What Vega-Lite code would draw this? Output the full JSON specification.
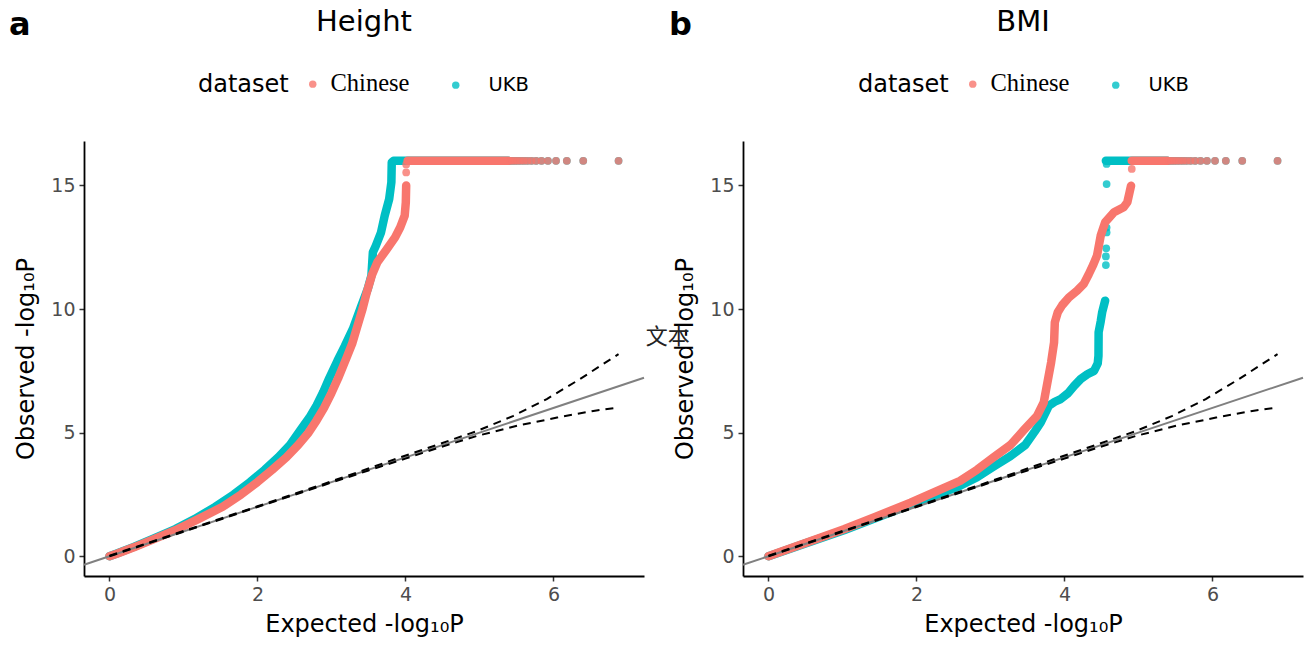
{
  "$schema": "https://vega.github.io/schema/vega-lite/v6.json",
  "background": "white",
  "padding": {"left": 9, "top": 8, "right": 5, "bottom": 5},
  "spacing": 99,
  "bounds": "flush",
  "config": {
    "view": {"stroke": null},
    "font": "DejaVu Sans",
    "axis": {
      "grid": false, "domainColor": "black", "domainWidth": 1.8,
      "tickColor": "#333333", "tickWidth": 1.5, "tickSize": 5,
      "labelColor": "#4D4D4D", "labelFontSize": 19, "labelFont": "DejaVu Sans", "labelPadding": 4,
      "titleFont": "DejaVu Sans", "titleFontSize": 24, "titleFontWeight": "normal", "titleColor": "black"
    },
    "axisX": {"titlePadding": 8},
    "axisY": {"titlePadding": 12},
    "legend": {
      "orient": "none", "direction": "horizontal", "titleOrient": "left",
      "titleFontSize": 24, "titleFontWeight": "normal", "titleColor": "black", "titleFont": "DejaVu Sans", "titlePadding": 14,
      "labelFontSize": 19.5, "labelColor": "black", "symbolType": "circle", "symbolSize": 55, "symbolOpacity": 0.8,
      "symbolStrokeWidth": 0, "labelOffset": 8, "columnPadding": 36
    }
  },
  "datasets": {
    "h_curve": [
      {"dataset": "UKB", "piece": "c", "x": 0, "y": 0},
      {"dataset": "UKB", "piece": "c", "x": 0.1, "y": 0.11},
      {"dataset": "UKB", "piece": "c", "x": 0.33, "y": 0.38},
      {"dataset": "UKB", "piece": "c", "x": 0.6, "y": 0.72},
      {"dataset": "UKB", "piece": "c", "x": 0.89, "y": 1.1},
      {"dataset": "UKB", "piece": "c", "x": 1.15, "y": 1.5},
      {"dataset": "UKB", "piece": "c", "x": 1.43, "y": 2.0},
      {"dataset": "UKB", "piece": "c", "x": 1.68, "y": 2.5},
      {"dataset": "UKB", "piece": "c", "x": 1.9, "y": 3.0},
      {"dataset": "UKB", "piece": "c", "x": 2.1, "y": 3.5},
      {"dataset": "UKB", "piece": "c", "x": 2.28, "y": 4.0},
      {"dataset": "UKB", "piece": "c", "x": 2.44, "y": 4.5},
      {"dataset": "UKB", "piece": "c", "x": 2.58, "y": 5.1},
      {"dataset": "UKB", "piece": "c", "x": 2.7, "y": 5.6},
      {"dataset": "UKB", "piece": "c", "x": 2.8, "y": 6.1},
      {"dataset": "UKB", "piece": "c", "x": 2.89, "y": 6.65},
      {"dataset": "UKB", "piece": "c", "x": 2.97, "y": 7.2},
      {"dataset": "UKB", "piece": "c", "x": 3.08, "y": 7.9},
      {"dataset": "UKB", "piece": "c", "x": 3.18, "y": 8.5},
      {"dataset": "UKB", "piece": "c", "x": 3.29, "y": 9.2},
      {"dataset": "UKB", "piece": "c", "x": 3.4, "y": 10.1},
      {"dataset": "UKB", "piece": "c", "x": 3.49, "y": 10.81},
      {"dataset": "UKB", "piece": "c", "x": 3.54, "y": 11.35},
      {"dataset": "UKB", "piece": "c", "x": 3.56, "y": 12.3},
      {"dataset": "UKB", "piece": "c", "x": 3.6, "y": 12.56},
      {"dataset": "UKB", "piece": "c", "x": 3.67, "y": 13.1},
      {"dataset": "UKB", "piece": "c", "x": 3.72, "y": 13.78},
      {"dataset": "UKB", "piece": "c", "x": 3.78, "y": 14.45},
      {"dataset": "UKB", "piece": "c", "x": 3.81, "y": 15.13},
      {"dataset": "UKB", "piece": "c", "x": 3.815, "y": 15.94},
      {"dataset": "UKB", "piece": "c", "x": 3.84, "y": 16},
      {"dataset": "UKB", "piece": "c", "x": 5.39, "y": 16},
      {"dataset": "Chinese", "piece": "c", "x": 0, "y": 0},
      {"dataset": "Chinese", "piece": "c", "x": 0.1, "y": 0.1},
      {"dataset": "Chinese", "piece": "c", "x": 0.33, "y": 0.36},
      {"dataset": "Chinese", "piece": "c", "x": 0.6, "y": 0.69},
      {"dataset": "Chinese", "piece": "c", "x": 0.89, "y": 1.05},
      {"dataset": "Chinese", "piece": "c", "x": 1.2, "y": 1.5},
      {"dataset": "Chinese", "piece": "c", "x": 1.53, "y": 2.0},
      {"dataset": "Chinese", "piece": "c", "x": 1.78, "y": 2.5},
      {"dataset": "Chinese", "piece": "c", "x": 2.0, "y": 3.0},
      {"dataset": "Chinese", "piece": "c", "x": 2.2, "y": 3.5},
      {"dataset": "Chinese", "piece": "c", "x": 2.39, "y": 4.0},
      {"dataset": "Chinese", "piece": "c", "x": 2.55, "y": 4.5},
      {"dataset": "Chinese", "piece": "c", "x": 2.69, "y": 5.0},
      {"dataset": "Chinese", "piece": "c", "x": 2.8, "y": 5.5},
      {"dataset": "Chinese", "piece": "c", "x": 2.9, "y": 6.0},
      {"dataset": "Chinese", "piece": "c", "x": 3.0, "y": 6.6},
      {"dataset": "Chinese", "piece": "c", "x": 3.09, "y": 7.2},
      {"dataset": "Chinese", "piece": "c", "x": 3.2, "y": 8.0},
      {"dataset": "Chinese", "piece": "c", "x": 3.28, "y": 8.6},
      {"dataset": "Chinese", "piece": "c", "x": 3.35, "y": 9.3},
      {"dataset": "Chinese", "piece": "c", "x": 3.42, "y": 10.0},
      {"dataset": "Chinese", "piece": "c", "x": 3.48, "y": 10.7},
      {"dataset": "Chinese", "piece": "c", "x": 3.55, "y": 11.4},
      {"dataset": "Chinese", "piece": "c", "x": 3.62, "y": 11.89},
      {"dataset": "Chinese", "piece": "c", "x": 3.75, "y": 12.43},
      {"dataset": "Chinese", "piece": "c", "x": 3.86, "y": 12.9},
      {"dataset": "Chinese", "piece": "c", "x": 3.93, "y": 13.31},
      {"dataset": "Chinese", "piece": "c", "x": 3.99, "y": 13.78},
      {"dataset": "Chinese", "piece": "c", "x": 4.005, "y": 14.32},
      {"dataset": "Chinese", "piece": "c", "x": 4.01, "y": 15.0},
      {"dataset": "Chinese", "piece": "t", "x": 4.03, "y": 16},
      {"dataset": "Chinese", "piece": "t", "x": 5.39, "y": 16}
    ],
    "h_tail": [
      {"dataset": "UKB", "x": 5.417, "y": 16}, {"dataset": "UKB", "x": 5.448, "y": 16},
      {"dataset": "UKB", "x": 5.482, "y": 16}, {"dataset": "UKB", "x": 5.518, "y": 16},
      {"dataset": "UKB", "x": 5.558, "y": 16}, {"dataset": "UKB", "x": 5.602, "y": 16},
      {"dataset": "UKB", "x": 5.65, "y": 16}, {"dataset": "UKB", "x": 5.704, "y": 16},
      {"dataset": "UKB", "x": 5.766, "y": 16}, {"dataset": "UKB", "x": 5.839, "y": 16},
      {"dataset": "UKB", "x": 5.926, "y": 16}, {"dataset": "UKB", "x": 6.035, "y": 16},
      {"dataset": "UKB", "x": 6.181, "y": 16}, {"dataset": "UKB", "x": 6.403, "y": 16},
      {"dataset": "UKB", "x": 6.88, "y": 16},
      {"dataset": "Chinese", "x": 4.01, "y": 15.53}, {"dataset": "Chinese", "x": 4.01, "y": 15.85},
      {"dataset": "Chinese", "x": 5.417, "y": 16}, {"dataset": "Chinese", "x": 5.448, "y": 16},
      {"dataset": "Chinese", "x": 5.482, "y": 16}, {"dataset": "Chinese", "x": 5.518, "y": 16},
      {"dataset": "Chinese", "x": 5.558, "y": 16}, {"dataset": "Chinese", "x": 5.602, "y": 16},
      {"dataset": "Chinese", "x": 5.65, "y": 16}, {"dataset": "Chinese", "x": 5.704, "y": 16},
      {"dataset": "Chinese", "x": 5.766, "y": 16}, {"dataset": "Chinese", "x": 5.839, "y": 16},
      {"dataset": "Chinese", "x": 5.926, "y": 16}, {"dataset": "Chinese", "x": 6.035, "y": 16},
      {"dataset": "Chinese", "x": 6.181, "y": 16}, {"dataset": "Chinese", "x": 6.403, "y": 16},
      {"dataset": "Chinese", "x": 6.88, "y": 16}
    ],
    "b_curve": [
      {"dataset": "UKB", "piece": "c", "x": 0, "y": 0},
      {"dataset": "UKB", "piece": "c", "x": 0.1, "y": 0.1},
      {"dataset": "UKB", "piece": "c", "x": 0.5, "y": 0.52},
      {"dataset": "UKB", "piece": "c", "x": 1.02, "y": 1.05},
      {"dataset": "UKB", "piece": "c", "x": 1.45, "y": 1.55},
      {"dataset": "UKB", "piece": "c", "x": 1.92, "y": 2.08},
      {"dataset": "UKB", "piece": "c", "x": 2.25, "y": 2.45},
      {"dataset": "UKB", "piece": "c", "x": 2.59, "y": 2.85},
      {"dataset": "UKB", "piece": "c", "x": 2.82, "y": 3.2},
      {"dataset": "UKB", "piece": "c", "x": 3.04, "y": 3.62},
      {"dataset": "UKB", "piece": "c", "x": 3.27, "y": 4.05},
      {"dataset": "UKB", "piece": "c", "x": 3.47, "y": 4.5},
      {"dataset": "UKB", "piece": "c", "x": 3.6, "y": 5.05},
      {"dataset": "UKB", "piece": "c", "x": 3.68, "y": 5.41},
      {"dataset": "UKB", "piece": "c", "x": 3.79, "y": 6.09},
      {"dataset": "UKB", "piece": "c", "x": 3.87, "y": 6.25},
      {"dataset": "UKB", "piece": "c", "x": 3.95, "y": 6.36},
      {"dataset": "UKB", "piece": "c", "x": 4.05, "y": 6.6},
      {"dataset": "UKB", "piece": "c", "x": 4.13, "y": 6.89},
      {"dataset": "UKB", "piece": "c", "x": 4.22, "y": 7.17},
      {"dataset": "UKB", "piece": "c", "x": 4.31, "y": 7.36},
      {"dataset": "UKB", "piece": "c", "x": 4.4, "y": 7.5},
      {"dataset": "UKB", "piece": "c", "x": 4.45, "y": 7.8},
      {"dataset": "UKB", "piece": "c", "x": 4.46, "y": 8.11},
      {"dataset": "UKB", "piece": "c", "x": 4.462, "y": 9.06},
      {"dataset": "UKB", "piece": "c", "x": 4.49, "y": 9.5},
      {"dataset": "UKB", "piece": "c", "x": 4.51, "y": 9.87},
      {"dataset": "UKB", "piece": "c", "x": 4.55, "y": 10.34},
      {"dataset": "UKB", "piece": "t", "x": 4.56, "y": 16},
      {"dataset": "UKB", "piece": "t", "x": 5.39, "y": 16},
      {"dataset": "Chinese", "piece": "c", "x": 0, "y": 0},
      {"dataset": "Chinese", "piece": "c", "x": 0.1, "y": 0.11},
      {"dataset": "Chinese", "piece": "c", "x": 0.5, "y": 0.54},
      {"dataset": "Chinese", "piece": "c", "x": 1.02, "y": 1.09},
      {"dataset": "Chinese", "piece": "c", "x": 1.45, "y": 1.6},
      {"dataset": "Chinese", "piece": "c", "x": 1.92, "y": 2.17},
      {"dataset": "Chinese", "piece": "c", "x": 2.25, "y": 2.6},
      {"dataset": "Chinese", "piece": "c", "x": 2.59, "y": 3.05},
      {"dataset": "Chinese", "piece": "c", "x": 2.82, "y": 3.5},
      {"dataset": "Chinese", "piece": "c", "x": 3.04, "y": 4.0},
      {"dataset": "Chinese", "piece": "c", "x": 3.27, "y": 4.5},
      {"dataset": "Chinese", "piece": "c", "x": 3.45, "y": 5.1},
      {"dataset": "Chinese", "piece": "c", "x": 3.63, "y": 5.68},
      {"dataset": "Chinese", "piece": "c", "x": 3.72, "y": 6.22},
      {"dataset": "Chinese", "piece": "c", "x": 3.77, "y": 7.03},
      {"dataset": "Chinese", "piece": "c", "x": 3.82, "y": 7.84},
      {"dataset": "Chinese", "piece": "c", "x": 3.86, "y": 8.65},
      {"dataset": "Chinese", "piece": "c", "x": 3.87, "y": 9.46},
      {"dataset": "Chinese", "piece": "c", "x": 3.91, "y": 9.87},
      {"dataset": "Chinese", "piece": "c", "x": 3.97, "y": 10.16},
      {"dataset": "Chinese", "piece": "c", "x": 4.06, "y": 10.47},
      {"dataset": "Chinese", "piece": "c", "x": 4.17, "y": 10.74},
      {"dataset": "Chinese", "piece": "c", "x": 4.26, "y": 11.01},
      {"dataset": "Chinese", "piece": "c", "x": 4.33, "y": 11.42},
      {"dataset": "Chinese", "piece": "c", "x": 4.39, "y": 11.8},
      {"dataset": "Chinese", "piece": "c", "x": 4.44, "y": 12.16},
      {"dataset": "Chinese", "piece": "c", "x": 4.49, "y": 12.97},
      {"dataset": "Chinese", "piece": "c", "x": 4.55, "y": 13.51},
      {"dataset": "Chinese", "piece": "c", "x": 4.67, "y": 13.92},
      {"dataset": "Chinese", "piece": "c", "x": 4.8, "y": 14.12},
      {"dataset": "Chinese", "piece": "c", "x": 4.85, "y": 14.32},
      {"dataset": "Chinese", "piece": "c", "x": 4.88, "y": 14.72},
      {"dataset": "Chinese", "piece": "c", "x": 4.9, "y": 14.99},
      {"dataset": "Chinese", "piece": "t", "x": 4.91, "y": 16},
      {"dataset": "Chinese", "piece": "t", "x": 5.39, "y": 16}
    ],
    "b_tail": [
      {"dataset": "UKB", "x": 4.56, "y": 11.78}, {"dataset": "UKB", "x": 4.56, "y": 12.13},
      {"dataset": "UKB", "x": 4.565, "y": 12.46}, {"dataset": "UKB", "x": 4.57, "y": 13.1},
      {"dataset": "UKB", "x": 4.57, "y": 13.3}, {"dataset": "UKB", "x": 4.57, "y": 15.06},
      {"dataset": "UKB", "x": 4.57, "y": 15.87},
      {"dataset": "UKB", "x": 5.417, "y": 16}, {"dataset": "UKB", "x": 5.448, "y": 16},
      {"dataset": "UKB", "x": 5.482, "y": 16}, {"dataset": "UKB", "x": 5.518, "y": 16},
      {"dataset": "UKB", "x": 5.558, "y": 16}, {"dataset": "UKB", "x": 5.602, "y": 16},
      {"dataset": "UKB", "x": 5.65, "y": 16}, {"dataset": "UKB", "x": 5.704, "y": 16},
      {"dataset": "UKB", "x": 5.766, "y": 16}, {"dataset": "UKB", "x": 5.839, "y": 16},
      {"dataset": "UKB", "x": 5.926, "y": 16}, {"dataset": "UKB", "x": 6.035, "y": 16},
      {"dataset": "UKB", "x": 6.181, "y": 16}, {"dataset": "UKB", "x": 6.403, "y": 16},
      {"dataset": "UKB", "x": 6.88, "y": 16},
      {"dataset": "Chinese", "x": 4.91, "y": 15.67},
      {"dataset": "Chinese", "x": 5.417, "y": 16}, {"dataset": "Chinese", "x": 5.448, "y": 16},
      {"dataset": "Chinese", "x": 5.482, "y": 16}, {"dataset": "Chinese", "x": 5.518, "y": 16},
      {"dataset": "Chinese", "x": 5.558, "y": 16}, {"dataset": "Chinese", "x": 5.602, "y": 16},
      {"dataset": "Chinese", "x": 5.65, "y": 16}, {"dataset": "Chinese", "x": 5.704, "y": 16},
      {"dataset": "Chinese", "x": 5.766, "y": 16}, {"dataset": "Chinese", "x": 5.839, "y": 16},
      {"dataset": "Chinese", "x": 5.926, "y": 16}, {"dataset": "Chinese", "x": 6.035, "y": 16},
      {"dataset": "Chinese", "x": 6.181, "y": 16}, {"dataset": "Chinese", "x": 6.403, "y": 16},
      {"dataset": "Chinese", "x": 6.88, "y": 16}
    ],
    "ci": [
      {"bound": "upper", "x": 0, "y": 0.02}, {"bound": "upper", "x": 1, "y": 1.02},
      {"bound": "upper", "x": 2, "y": 2.02}, {"bound": "upper", "x": 3, "y": 3.03},
      {"bound": "upper", "x": 3.5, "y": 3.55}, {"bound": "upper", "x": 3.93, "y": 4.0},
      {"bound": "upper", "x": 4.47, "y": 4.55}, {"bound": "upper", "x": 4.97, "y": 5.07},
      {"bound": "upper", "x": 5.46, "y": 5.68}, {"bound": "upper", "x": 5.91, "y": 6.36},
      {"bound": "upper", "x": 6.36, "y": 7.17}, {"bound": "upper", "x": 6.88, "y": 8.18},
      {"bound": "lower", "x": 0, "y": 0}, {"bound": "lower", "x": 1, "y": 0.99},
      {"bound": "lower", "x": 2, "y": 1.99}, {"bound": "lower", "x": 3, "y": 2.98},
      {"bound": "lower", "x": 3.5, "y": 3.47}, {"bound": "lower", "x": 4, "y": 3.95},
      {"bound": "lower", "x": 4.47, "y": 4.41}, {"bound": "lower", "x": 4.97, "y": 4.87},
      {"bound": "lower", "x": 5.51, "y": 5.28}, {"bound": "lower", "x": 6.05, "y": 5.61},
      {"bound": "lower", "x": 6.54, "y": 5.88}, {"bound": "lower", "x": 6.88, "y": 6.02}
    ],
    "diag": [
      {"x": -0.344, "y": -0.344}, {"x": 7.224, "y": 7.224}
    ]
  },
  "hconcat": [
    {
      "width": 560, "height": 435,
      "layer": [
        {
          "encoding": {
            "x": {"field": "x", "type": "quantitative", "scale": {"domain": [-0.344, 7.224], "nice": false, "zero": false}, "axis": {"values": [0, 2, 4, 6], "title": "Expected -log₁₀P"}},
            "y": {"field": "y", "type": "quantitative", "scale": {"domain": [-0.8, 16.8], "nice": false, "zero": false}, "axis": {"values": [0, 5, 10, 15], "title": "Observed -log₁₀P"}}
          },
          "layer": [
            {"data": {"name": "h_curve"}, "transform": [{"filter": "datum.dataset == 'UKB'"}],
             "mark": {"type": "line", "color": "#00BFC4", "strokeWidth": 8.5, "strokeCap": "round", "strokeJoin": "round"},
             "encoding": {"detail": {"field": "piece", "type": "nominal"}}},
            {"data": {"name": "h_tail"}, "transform": [{"filter": "datum.dataset == 'UKB'"}],
             "mark": {"type": "point", "filled": true, "size": 60, "opacity": 0.8},
             "encoding": {"color": {"field": "dataset", "type": "nominal", "scale": {"domain": ["Chinese", "UKB"], "range": ["#F8766D", "#00BFC4"]},
               "legend": {"title": "dataset", "legendX": 114, "legendY": -67,
                 "encode": {"labels": {"update": {"font": {"signal": "datum.label == 'Chinese' ? 'Liberation Serif' : 'DejaVu Sans'"}, "fontSize": {"signal": "datum.label == 'Chinese' ? 24.5 : 19.5"}, "dx": {"signal": "datum.label == 'UKB' ? 15 : 0"}}}}}}}},
            {"data": {"name": "h_curve"}, "transform": [{"filter": "datum.dataset == 'Chinese'"}],
             "mark": {"type": "line", "color": "#F8766D", "strokeWidth": 8.5, "strokeCap": "round", "strokeJoin": "round"},
             "encoding": {"detail": {"field": "piece", "type": "nominal"}}},
            {"data": {"name": "h_tail"}, "transform": [{"filter": "datum.dataset == 'Chinese'"}],
             "mark": {"type": "point", "filled": true, "size": 60, "opacity": 0.8},
             "encoding": {"color": {"field": "dataset", "type": "nominal", "scale": {"domain": ["Chinese", "UKB"], "range": ["#F8766D", "#00BFC4"]},
               "legend": {"title": "dataset", "legendX": 114, "legendY": -67,
                 "encode": {"labels": {"update": {"font": {"signal": "datum.label == 'Chinese' ? 'Liberation Serif' : 'DejaVu Sans'"}, "fontSize": {"signal": "datum.label == 'Chinese' ? 24.5 : 19.5"}, "dx": {"signal": "datum.label == 'UKB' ? 15 : 0"}}}}}}}},
            {"data": {"name": "diag"}, "mark": {"type": "line", "color": "#808080", "strokeWidth": 2}, "encoding": {}},
            {"data": {"name": "ci"}, "mark": {"type": "line", "color": "black", "strokeWidth": 2, "strokeDash": [8, 6]}, "encoding": {"detail": {"field": "bound", "type": "nominal"}}}
          ]
        },
        {"data": {"values": [{"label": "a"}]},
         "mark": {"type": "text", "clip": false, "fontSize": 32, "fontWeight": "bold", "color": "black", "align": "center", "baseline": "alphabetic"},
         "encoding": {
           "x": {"datum": -1.21, "type": "quantitative", "scale": {"domain": [-0.344, 7.224], "nice": false, "zero": false}, "axis": {"values": [0, 2, 4, 6], "title": "Expected -log₁₀P"}},
           "y": {"datum": 21.08, "type": "quantitative", "scale": {"domain": [-0.8, 16.8], "nice": false, "zero": false}, "axis": {"values": [0, 5, 10, 15], "title": "Observed -log₁₀P"}},
           "text": {"field": "label", "type": "nominal"}}},
        {"data": {"values": [{"label": "Height"}]},
         "mark": {"type": "text", "clip": false, "fontSize": 29, "color": "black", "align": "center", "baseline": "alphabetic"},
         "encoding": {
           "x": {"datum": 3.44, "type": "quantitative", "scale": {"domain": [-0.344, 7.224], "nice": false, "zero": false}, "axis": {"values": [0, 2, 4, 6], "title": "Expected -log₁₀P"}},
           "y": {"datum": 21.24, "type": "quantitative", "scale": {"domain": [-0.8, 16.8], "nice": false, "zero": false}, "axis": {"values": [0, 5, 10, 15], "title": "Observed -log₁₀P"}},
           "text": {"field": "label", "type": "nominal"}}}
      ]
    },
    {
      "width": 560, "height": 435,
      "layer": [
        {
          "encoding": {
            "x": {"field": "x", "type": "quantitative", "scale": {"domain": [-0.344, 7.224], "nice": false, "zero": false}, "axis": {"values": [0, 2, 4, 6], "title": "Expected -log₁₀P"}},
            "y": {"field": "y", "type": "quantitative", "scale": {"domain": [-0.8, 16.8], "nice": false, "zero": false}, "axis": {"values": [0, 5, 10, 15], "title": "Observed -log₁₀P"}}
          },
          "layer": [
            {"data": {"name": "b_curve"}, "transform": [{"filter": "datum.dataset == 'UKB'"}],
             "mark": {"type": "line", "color": "#00BFC4", "strokeWidth": 8.5, "strokeCap": "round", "strokeJoin": "round"},
             "encoding": {"detail": {"field": "piece", "type": "nominal"}}},
            {"data": {"name": "b_tail"}, "transform": [{"filter": "datum.dataset == 'UKB'"}],
             "mark": {"type": "point", "filled": true, "size": 60, "opacity": 0.8},
             "encoding": {"color": {"field": "dataset", "type": "nominal", "scale": {"domain": ["Chinese", "UKB"], "range": ["#F8766D", "#00BFC4"]},
               "legend": {"title": "dataset", "legendX": 115, "legendY": -67,
                 "encode": {"labels": {"update": {"font": {"signal": "datum.label == 'Chinese' ? 'Liberation Serif' : 'DejaVu Sans'"}, "fontSize": {"signal": "datum.label == 'Chinese' ? 24.5 : 19.5"}, "dx": {"signal": "datum.label == 'UKB' ? 15 : 0"}}}}}}}},
            {"data": {"name": "b_curve"}, "transform": [{"filter": "datum.dataset == 'Chinese'"}],
             "mark": {"type": "line", "color": "#F8766D", "strokeWidth": 8.5, "strokeCap": "round", "strokeJoin": "round"},
             "encoding": {"detail": {"field": "piece", "type": "nominal"}}},
            {"data": {"name": "b_tail"}, "transform": [{"filter": "datum.dataset == 'Chinese'"}],
             "mark": {"type": "point", "filled": true, "size": 60, "opacity": 0.8},
             "encoding": {"color": {"field": "dataset", "type": "nominal", "scale": {"domain": ["Chinese", "UKB"], "range": ["#F8766D", "#00BFC4"]},
               "legend": {"title": "dataset", "legendX": 115, "legendY": -67,
                 "encode": {"labels": {"update": {"font": {"signal": "datum.label == 'Chinese' ? 'Liberation Serif' : 'DejaVu Sans'"}, "fontSize": {"signal": "datum.label == 'Chinese' ? 24.5 : 19.5"}, "dx": {"signal": "datum.label == 'UKB' ? 15 : 0"}}}}}}}},
            {"data": {"name": "diag"}, "mark": {"type": "line", "color": "#808080", "strokeWidth": 2}, "encoding": {}},
            {"data": {"name": "ci"}, "mark": {"type": "line", "color": "black", "strokeWidth": 2, "strokeDash": [8, 6]}, "encoding": {"detail": {"field": "bound", "type": "nominal"}}}
          ]
        },
        {"data": {"values": [{"label": "b"}]},
         "mark": {"type": "text", "clip": false, "fontSize": 32, "fontWeight": "bold", "color": "black", "align": "center", "baseline": "alphabetic"},
         "encoding": {
           "x": {"datum": -1.19, "type": "quantitative", "scale": {"domain": [-0.344, 7.224], "nice": false, "zero": false}, "axis": {"values": [0, 2, 4, 6], "title": "Expected -log₁₀P"}},
           "y": {"datum": 21.08, "type": "quantitative", "scale": {"domain": [-0.8, 16.8], "nice": false, "zero": false}, "axis": {"values": [0, 5, 10, 15], "title": "Observed -log₁₀P"}},
           "text": {"field": "label", "type": "nominal"}}},
        {"data": {"values": [{"label": "BMI"}]},
         "mark": {"type": "text", "clip": false, "fontSize": 29, "color": "black", "align": "center", "baseline": "alphabetic"},
         "encoding": {
           "x": {"datum": 3.44, "type": "quantitative", "scale": {"domain": [-0.344, 7.224], "nice": false, "zero": false}, "axis": {"values": [0, 2, 4, 6], "title": "Expected -log₁₀P"}},
           "y": {"datum": 21.24, "type": "quantitative", "scale": {"domain": [-0.8, 16.8], "nice": false, "zero": false}, "axis": {"values": [0, 5, 10, 15], "title": "Observed -log₁₀P"}},
           "text": {"field": "label", "type": "nominal"}}},
        {"data": {"values": [{"label": "文本"}]},
         "mark": {"type": "text", "clip": false, "fontSize": 22, "font": "Noto Sans CJK SC", "color": "#222222", "align": "center", "baseline": "middle"},
         "encoding": {
           "x": {"datum": -1.36, "type": "quantitative", "scale": {"domain": [-0.344, 7.224], "nice": false, "zero": false}, "axis": {"values": [0, 2, 4, 6], "title": "Expected -log₁₀P"}},
           "y": {"datum": 8.89, "type": "quantitative", "scale": {"domain": [-0.8, 16.8], "nice": false, "zero": false}, "axis": {"values": [0, 5, 10, 15], "title": "Observed -log₁₀P"}},
           "text": {"field": "label", "type": "nominal"}}}
      ]
    }
  ],
  "resolve": {"scale": {"color": "independent"}, "legend": {"color": "independent"}}
}
